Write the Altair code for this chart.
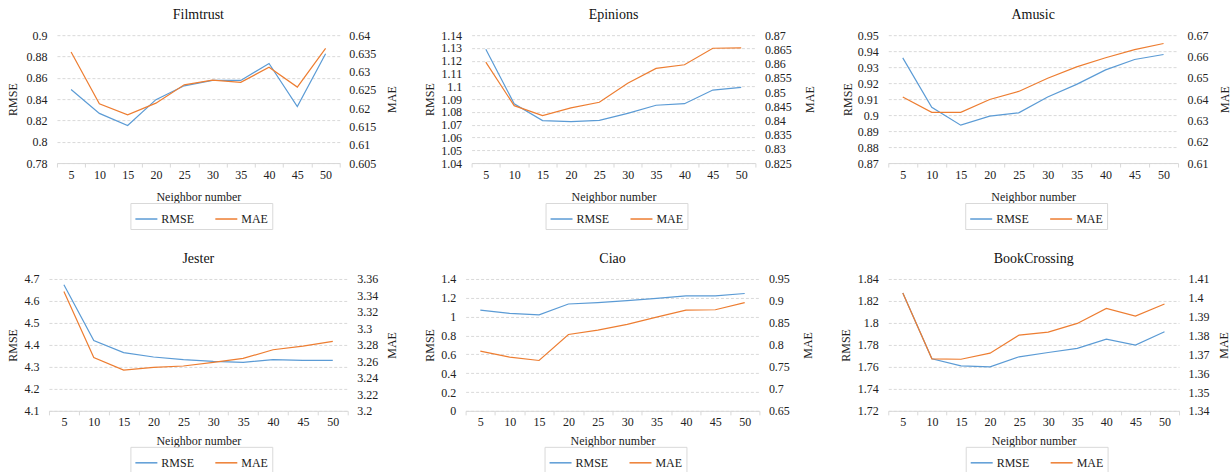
import altair as alt
import pandas as pd

neighbors = [5, 10, 15, 20, 25, 30, 35, 40, 45, 50]

titles = ["Filmtrust", "Epinions", "Amusic", "Jester", "Ciao", "BookCrossing"]

rmse_vals = {
    "Filmtrust": [0.849, 0.8266, 0.8153, 0.8395, 0.8525, 0.8575, 0.8575, 0.8734, 0.833, 0.8825],
    "Epinions": [1.129, 1.0864, 1.0732, 1.0724, 1.0734, 1.0788, 1.0852, 1.0864, 1.0971, 1.0992],
    "Amusic": [0.9358, 0.9049, 0.8937, 0.8994, 0.9014, 0.9113, 0.9192, 0.9283, 0.9348, 0.9379],
    "Jester": [4.674, 4.42, 4.365, 4.345, 4.333, 4.325, 4.321, 4.333, 4.330, 4.330],
    "Ciao": [1.07, 1.034, 1.019, 1.134, 1.149, 1.170, 1.195, 1.220, 1.220, 1.246],
    "BookCrossing": [1.8272, 1.7674, 1.761, 1.760, 1.7692, 1.7731, 1.7768, 1.7853, 1.7798, 1.792],
}

mae_vals = {
    "Filmtrust": [0.6354, 0.6212, 0.6182, 0.6214, 0.6264, 0.6277, 0.6271, 0.6312, 0.6258, 0.6364],
    "Epinions": [0.8605, 0.8452, 0.8417, 0.8444, 0.8464, 0.8531, 0.8583, 0.8596, 0.8654, 0.8655],
    "Amusic": [0.641, 0.6338, 0.6338, 0.6398, 0.6436, 0.6498, 0.6551, 0.6594, 0.6632, 0.6661],
    "Jester": [3.3447, 3.2648, 3.2495, 3.2527, 3.2544, 3.2588, 3.2636, 3.2741, 3.2785, 3.2842],
    "Ciao": [0.786, 0.7723, 0.7646, 0.8238, 0.8338, 0.8469, 0.8631, 0.8792, 0.880, 0.8962],
    "BookCrossing": [1.4026, 1.3676, 1.3674, 1.3706, 1.3802, 1.3818, 1.3864, 1.3944, 1.3903, 1.3967],
}

rmse_ticks = {
    "Filmtrust": [0.78, 0.8, 0.82, 0.84, 0.86, 0.88, 0.9],
    "Epinions": [1.04, 1.05, 1.06, 1.07, 1.08, 1.09, 1.1, 1.11, 1.12, 1.13, 1.14],
    "Amusic": [0.87, 0.88, 0.89, 0.9, 0.91, 0.92, 0.93, 0.94, 0.95],
    "Jester": [4.1, 4.2, 4.3, 4.4, 4.5, 4.6, 4.7],
    "Ciao": [0, 0.2, 0.4, 0.6, 0.8, 1, 1.2, 1.4],
    "BookCrossing": [1.72, 1.74, 1.76, 1.78, 1.8, 1.82, 1.84],
}

mae_ticks = {
    "Filmtrust": [0.605, 0.61, 0.615, 0.62, 0.625, 0.63, 0.635, 0.64],
    "Epinions": [0.825, 0.83, 0.835, 0.84, 0.845, 0.85, 0.855, 0.86, 0.865, 0.87],
    "Amusic": [0.61, 0.62, 0.63, 0.64, 0.65, 0.66, 0.67],
    "Jester": [3.2, 3.22, 3.24, 3.26, 3.28, 3.3, 3.32, 3.34, 3.36],
    "Ciao": [0.65, 0.7, 0.75, 0.8, 0.85, 0.9, 0.95],
    "BookCrossing": [1.34, 1.35, 1.36, 1.37, 1.38, 1.39, 1.4, 1.41],
}

BLUE = "#5B9BD5"
ORANGE = "#ED7D31"
FONT = "'Liberation Serif', 'Times New Roman', 'DejaVu Serif', serif"
GRID = "#d9d9d9"

# per-panel layout: plot width, plot height, legend offset, left/right axis extents, x title pad
layout = {
    "Filmtrust": (283, 128, 40, 33, 43, 11),
    "Epinions": (284, 128, 40, 31, 45, 11),
    "Amusic": (290, 128, 40, 30, 37, 11),
    "Jester": (299, 132, 36, 25, 35, 8),
    "Ciao": (294, 132, 36, 25, 39, 8),
    "BookCrossing": (291, 132, 36, 32, 35, 8),
}


def panel(name):
    w, h, leg_dy, el, er, xtp = layout[name]
    rows = []
    for n, r, m in zip(neighbors, rmse_vals[name], mae_vals[name]):
        rows.append({"N": n, "metric": "RMSE", "value": r})
        rows.append({"N": n, "metric": "MAE", "value": m})
    df = pd.DataFrame(rows)
    rt = rmse_ticks[name]
    mt = mae_ticks[name]
    base = alt.Chart(df).encode(
        x=alt.X(
            "N:O",
            title="Neighbor number",
            scale=alt.Scale(paddingInner=0, paddingOuter=0),
            axis=alt.Axis(labelAngle=0, tickBand="extent", domainColor=GRID,
                          tickColor=GRID, tickSize=4, grid=False, labelPadding=2,
                          titlePadding=xtp),
        ),
        color=alt.Color(
            "metric:N",
            scale=alt.Scale(domain=["RMSE", "MAE"], range=[BLUE, ORANGE]),
            legend=alt.Legend(
                title=None, orient="none", direction="horizontal",
                legendX=w / 2 - 68, legendY=h + leg_dy,
                strokeColor=GRID, padding=4, symbolType="stroke",
                symbolSize=484, symbolStrokeWidth=1.5, labelFont=FONT,
                labelFontSize=12, columnPadding=18, labelColor="#222",
                labelOffset=3,
            ),
        ),
    )
    l1 = base.transform_filter(alt.datum.metric == "RMSE").mark_line(strokeWidth=1.2).encode(
        y=alt.Y("value:Q", title="RMSE",
                scale=alt.Scale(domain=[rt[0], rt[-1]], zero=False, nice=False),
                axis=alt.Axis(values=rt, orient="left", labelExpr="'' + datum.value",
                              grid=True, gridDash=[3, 2], gridColor=GRID, domain=False,
                              ticks=False, labelPadding=10, titlePadding=4,
                              minExtent=el, maxExtent=el))
    )
    l2 = base.transform_filter(alt.datum.metric == "MAE").mark_line(strokeWidth=1.2).encode(
        y=alt.Y("value:Q", title="MAE",
                scale=alt.Scale(domain=[mt[0], mt[-1]], zero=False, nice=False),
                axis=alt.Axis(values=mt, orient="right", labelExpr="'' + datum.value",
                              grid=False, domain=False, ticks=False, labelPadding=9,
                              titlePadding=4, titleAngle=270, titleBaseline="top",
                              minExtent=er, maxExtent=er))
    )
    return alt.layer(l1, l2).resolve_scale(y="independent").properties(
        width=w, height=h,
        title=alt.TitleParams(name, fontSize=14, font=FONT, fontWeight="normal",
                              anchor="middle", offset=7, color="#111"),
    )


def spacer():
    return alt.Chart(pd.DataFrame({"v": [0]})).mark_rule(opacity=0).encode(
        x=alt.value(0), y=alt.value(0), y2=alt.value(1)
    ).properties(width=1, height=1)


def ind(c):
    return c.resolve_scale(color="independent").resolve_legend(color="independent")


def row(names):
    inner = ind(alt.hconcat(*[panel(n) for n in names], spacing=26))
    return ind(alt.hconcat(spacer(), inner, spacing=0))


chart = ind(alt.vconcat(row(titles[:3]), row(titles[3:]), spacing=22)).properties(
    padding={"left": 6, "top": 8, "right": 2, "bottom": 0}
).configure(font=FONT).configure_axis(
    labelFont=FONT, titleFont=FONT, labelFontSize=12, titleFontSize=12,
    labelColor="#222", titleColor="#222", titleFontWeight="normal"
).configure_view(stroke=None)

chart.save("out.html", embed_options={"renderer": "svg", "actions": False})
